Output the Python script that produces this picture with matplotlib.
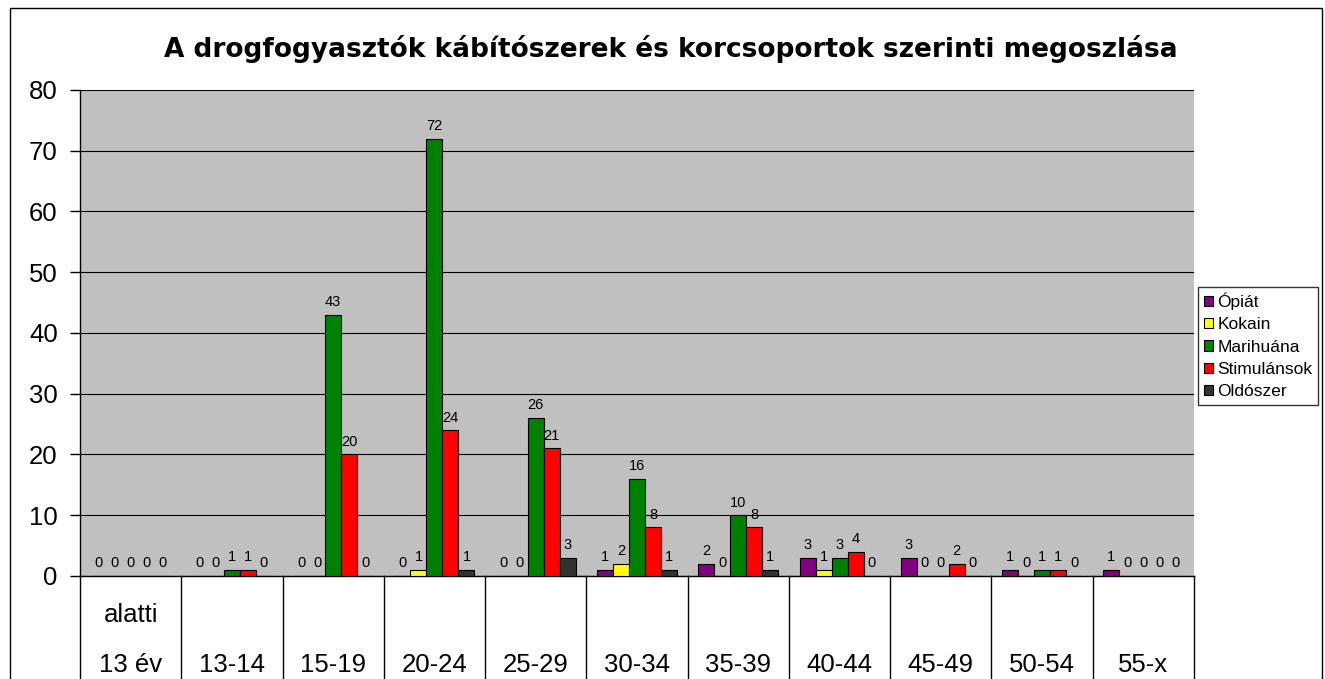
import matplotlib.pyplot as plt
import numpy as np
from matplotlib.patches import Rectangle
from matplotlib.lines import Line2D
import matplotlib.transforms as transforms

plt.rcParams['font.family'] = ['Liberation Sans', 'DejaVu Sans']

categories = ['13 év', '13-14', '15-19', '20-24', '25-29', '30-34', '35-39', '40-44', '45-49', '50-54', '55-x']
series_names = ['Ópiát', 'Kokain', 'Marihuána', 'Stimulánsok', 'Oldószer']
opiat = [0, 0, 0, 0, 0, 1, 2, 3, 3, 1, 1]
kokain = [0, 0, 0, 1, 0, 2, 0, 1, 0, 0, 0]
marihuana = [0, 1, 43, 72, 26, 16, 10, 3, 0, 1, 0]
stimulansok = [0, 1, 20, 24, 21, 8, 8, 4, 2, 1, 0]
oldoszer = [0, 0, 0, 1, 3, 1, 1, 0, 0, 0, 0]
colors = ['#800080', '#FFFF00', '#008000', '#FF0000', '#333333']

fig = plt.figure(figsize=(13.25, 6.79), dpi=100)
ax = fig.add_axes([0.0604, 0.1517, 0.8407, 0.7158])
ax.set_facecolor('#C0C0C0')

x = np.arange(len(categories))
w = 0.158
values = [opiat, kokain, marihuana, stimulansok, oldoszer]
for i, (vals, col, name) in enumerate(zip(values, colors, series_names)):
    pos = x + (i - 2) * w
    ax.bar(pos, vals, width=w, color=col, edgecolor='black', linewidth=0.8, label=name, zorder=3)
    for p, v in zip(pos, vals):
        ax.annotate(str(v), (p, v), xytext=(0, 4), textcoords='offset points',
                    ha='center', va='bottom', fontsize=10.5, zorder=4)

ax.set_xlim(-0.5, len(categories) - 0.5)
ax.set_ylim(0, 80)
ax.set_yticks(range(0, 81, 10))
ax.tick_params(axis='y', labelsize=18.5, length=7, direction='out', width=1, pad=9)
ax.set_xticks([])
ax.grid(axis='y', color='black', linewidth=0.8, zorder=1)
ax.set_axisbelow(True)
for s in ['top', 'right']:
    ax.spines[s].set_visible(False)
ax.spines['left'].set_linewidth(1)
ax.spines['bottom'].set_linewidth(1)

# category "table" under the plot
trans = transforms.blended_transform_factory(ax.transData, ax.transAxes)
for b in np.arange(-0.5, len(categories), 1.0):
    ax.add_line(Line2D([b, b], [0, -0.22], transform=trans, color='black', linewidth=1, clip_on=False))
for xi, cat in zip(x, categories):
    ax.text(xi, -0.1975, cat, transform=trans, ha='center', va='baseline', fontsize=18.5)
ax.text(0, -0.0947, 'alatti', transform=trans, ha='center', va='baseline', fontsize=18.5)

fig.text(0.506, 1 - 57 / 679, 'A drogfogyasztók kábítószerek és korcsoportok szerinti megoszlása',
         ha='center', va='baseline', fontsize=19, fontweight='bold', family='DejaVu Sans')

# outer frame
fig.patches.append(Rectangle((10 / 1325, -0.01), 1312 / 1325, 0.998, transform=fig.transFigure,
                             fill=False, edgecolor='black', linewidth=1))

leg = fig.legend(loc='upper left', bbox_to_anchor=(1198 / 1325, 1 - 287 / 679), fontsize=12.5,
                 frameon=True, fancybox=False, edgecolor='black', handlelength=0.55, handleheight=0.55,
                 handletextpad=0.25, labelspacing=0.42, borderpad=0.32, borderaxespad=0)
leg.get_frame().set_linewidth(1)

fig.savefig('out.png', dpi=100)
